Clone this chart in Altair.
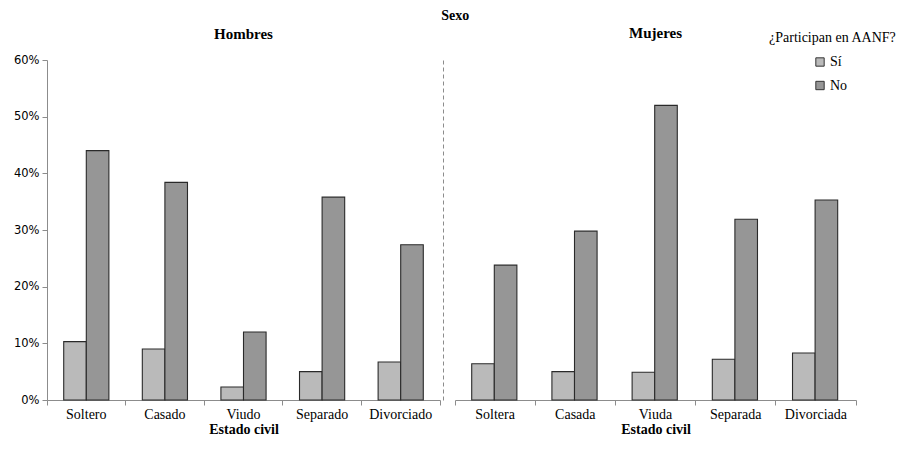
import altair as alt
import pandas as pd

hombres_cat = ["Soltero", "Casado", "Viudo", "Separado", "Divorciado"]
mujeres_cat = ["Soltera", "Casada", "Viuda", "Separada", "Divorciada"]
hombres_si = [10.3, 9.0, 2.3, 5.0, 6.7]
hombres_no = [44.0, 38.4, 12.0, 35.8, 27.4]
mujeres_si = [6.4, 5.0, 4.9, 7.2, 8.3]
mujeres_no = [23.8, 29.8, 52.0, 31.9, 35.3]
respuestas = ["Sí", "No"]
colores = ["#bababa", "#969696"]
y_ticks = [0, 0.1, 0.2, 0.3, 0.4, 0.5, 0.6]


def build(cats, si, no):
    rows = []
    for c, a, b in zip(cats, si, no):
        rows.append({"estado": c, "resp": "Sí", "valor": a / 100})
        rows.append({"estado": c, "resp": "No", "valor": b / 100})
    return pd.DataFrame(rows)


df_h = build(hombres_cat, hombres_si, hombres_no)
df_m = build(mujeres_cat, mujeres_si, mujeres_no)

SERIF = "Liberation Serif"
SANS = "DejaVu Sans"

legend = alt.Legend(title="¿Participan en AANF?", orient="none", legendX=722, legendY=-29,
                    titleFont=SERIF, titleFontSize=14, titleFontWeight="normal", titleColor="#000",
                    labelFont=SERIF, labelFontSize=14, labelColor="#000",
                    symbolType="square", symbolSize=70, symbolStrokeColor="#333333",
                    symbolStrokeWidth=1, symbolOffset=44, rowPadding=9.5, titlePadding=10,
                    labelOffset=3)


def panel(df, cats, title, width, first):
    if first:
        y_axis = alt.Axis(format=".0%", values=y_ticks, title=None, grid=False,
                          labelFont=SANS, labelFontSize=11.5, labelColor="#000",
                          domainColor="#8c8c8c", tickColor="#8c8c8c", tickSize=5, labelPadding=3)
        toff = 12
    else:
        y_axis = alt.Axis(labels=False, ticks=False, title=None, grid=False,
                          domainDash=[4, 3], domainColor="#8c8c8c", offset=12)
        toff = 19
    return alt.Chart(df, title=alt.TitleParams(title, font=SERIF, fontSize=15, fontWeight="bold",
                                               color="#000", anchor="middle", offset=toff)).mark_bar(
        stroke="#2a2a2a", strokeWidth=1.1
    ).encode(
        x=alt.X("estado:N", sort=cats, scale=alt.Scale(paddingInner=0, paddingOuter=0),
                axis=alt.Axis(title="Estado civil", bandPosition=1, tickExtra=True, labelAngle=0,
                              labelFont=SERIF, labelFontSize=14, labelColor="#000", labelPadding=2,
                              titleFont=SERIF, titleFontSize=14, titleFontWeight="bold", titleColor="#000",
                              titlePadding=1, domainColor="#8c8c8c", tickColor="#8c8c8c", tickSize=5)),
        xOffset=alt.XOffset("resp:N", sort=respuestas, scale=alt.Scale(paddingInner=0, paddingOuter=0.74)),
        y=alt.Y("valor:Q", scale=alt.Scale(domain=[0, 0.6]), axis=y_axis),
        color=alt.Color("resp:N", sort=respuestas,
                        scale=alt.Scale(domain=respuestas, range=colores), legend=legend),
    ).properties(width=width, height=340)


left = panel(df_h, hombres_cat, "Hombres", 393, True)
right = panel(df_m, mujeres_cat, "Mujeres", 401, False)

chart = alt.hconcat(left, right, spacing=2).properties(
    title=alt.TitleParams("Sexo", font=SERIF, fontSize=14, fontWeight="bold", color="#000",
                          anchor="middle", offset=3.5),
    padding={"left": 5, "top": 0, "right": 0, "bottom": 0},
    background="white",
).resolve_scale(color="shared").configure_view(strokeWidth=0, stroke="transparent")

chart.save("out.html", embed_options={"renderer": "svg", "actions": False})
